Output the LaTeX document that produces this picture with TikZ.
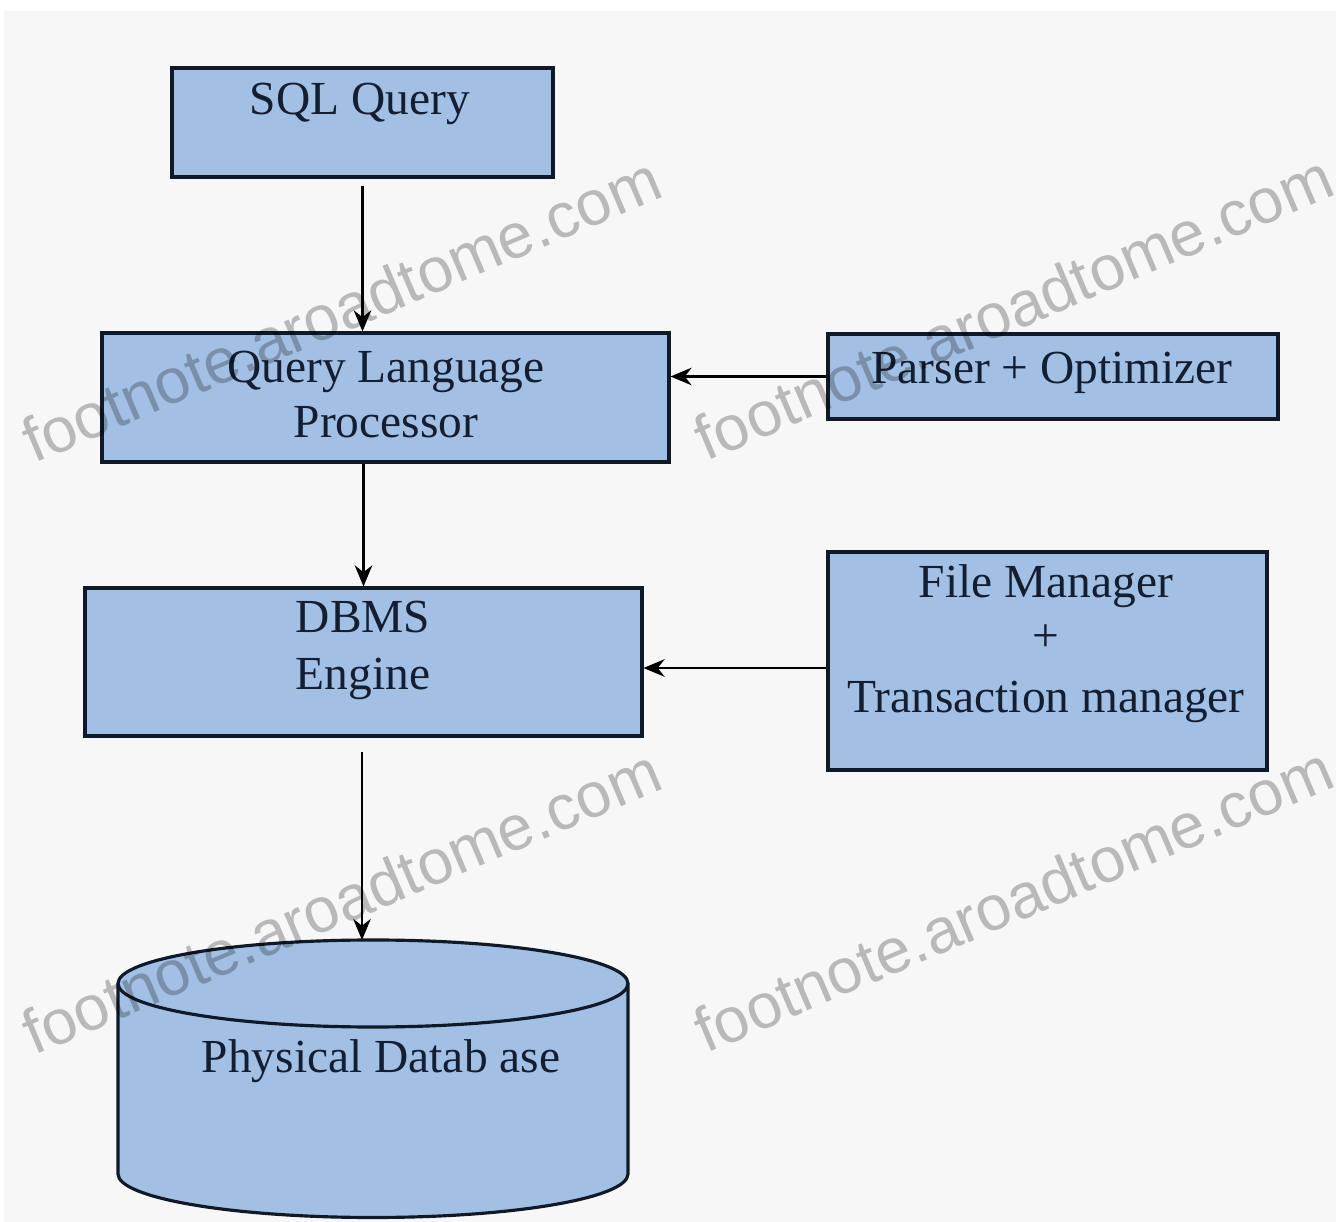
\documentclass[tikz,border=0pt]{standalone}
\usepackage{fontspec}
\setmainfont{Liberation Serif}
\newfontfamily\wmfont{Liberation Sans}
\usetikzlibrary{arrows.meta,calc}
\definecolor{boxfill}{RGB}{162,192,228}
\definecolor{boxline}{RGB}{15,25,40}
\definecolor{txt}{RGB}{20,30,50}
\definecolor{bgc}{RGB}{247,247,247}
\begin{document}
\begin{tikzpicture}[x=0.02cm,y=-0.02cm,
  box/.style={draw=boxline, line width=1.8pt, fill=boxfill, inner sep=0pt},
  lbl/.style={text=txt, font=\fontsize{27}{30}\selectfont, anchor=base, inner sep=0pt},
  arr/.style={draw=black, line width=1.4pt, -{Stealth[length=12pt,width=10pt]}},
  wm/.style={font=\wmfont\fontsize{36}{38}\selectfont, text=black, text opacity=0.25, rotate=23, anchor=base, inner sep=0pt}]
\useasboundingbox (0,0) rectangle (1340,1222);
\fill[white] (0,0) rectangle (1340,1222);
\fill[bgc] (4,11) rectangle (1336,1222);

% boxes
\node[box, minimum width=7.62cm, minimum height=2.18cm] (sql) at (362.5,122.5) {};
\node[box, minimum width=11.34cm, minimum height=2.58cm] (qlp) at (385.5,397.5) {};
\node[box, minimum width=9cm, minimum height=1.7cm] (parser) at (1053,376.5) {};
\node[box, minimum width=11.14cm, minimum height=2.96cm] (dbms) at (363.5,662) {};
\node[box, minimum width=8.78cm, minimum height=4.36cm] (fm) at (1047.5,661) {};

% cylinder (physical database)
\path[fill=boxfill] (118,983.5) -- (118,1174)
  arc[start angle=180, end angle=0, x radius=255, y radius=43.5]
  -- (628,983.5)
  arc[start angle=0, end angle=-180, x radius=255, y radius=43.5] -- cycle;
\draw[boxline, line width=1.8pt] (118,983.5) -- (118,1174)
  arc[start angle=180, end angle=0, x radius=255, y radius=43.5]
  -- (628,983.5);
\draw[boxline, line width=1.8pt] (373,983.5) ellipse [x radius=255, y radius=43.5];
\coordinate (dbtop) at (362,940);

% connectors
\draw[arr, shorten <=4pt] (sql.south) -- (sql.south |- qlp.north);
\draw[arr] (parser.west) -- (parser.west -| qlp.east);
\draw[arr] (qlp.south -| dbms.north) -- (dbms.north);
\draw[arr] ([yshift=-0.14cm]fm.west) -- ([yshift=-0.14cm]fm.west -| dbms.east);
\draw[arr, shorten <=8pt] (dbms.south -| dbtop) -- (dbtop);

% labels
\node[lbl] (tsql) at (360,115) {SQL Query};
\node[lbl] (tqlp1) at (386,383) {Query Language};
\node[lbl] (tqlp2) at (386,438) {Processor};
\node[lbl] (tpar) at (1052,384) {Parser + Optimizer};
\node[lbl] (tdb1) at (363,633) {DBMS};
\node[lbl] (tdb2) at (363,690) {Engine};
\node[lbl] (tfm1) at (1046,598) {File Manager};
\node[lbl] (tfm2) at (1046,652) {+};
\node[lbl] (tfm3) at (1046,713) {Transaction manager};
\node[lbl] (tpd) at (381,1073) {Physical Datab ase};

% watermarks
\node[wm] (w1) at (350,330) {footnote.aroadtome.com};
\node[wm] (w2) at (1022,328) {footnote.aroadtome.com};
\node[wm] (w3) at (350,922) {footnote.aroadtome.com};
\node[wm] (w4) at (1022,920) {footnote.aroadtome.com};
\end{tikzpicture}
\end{document}
